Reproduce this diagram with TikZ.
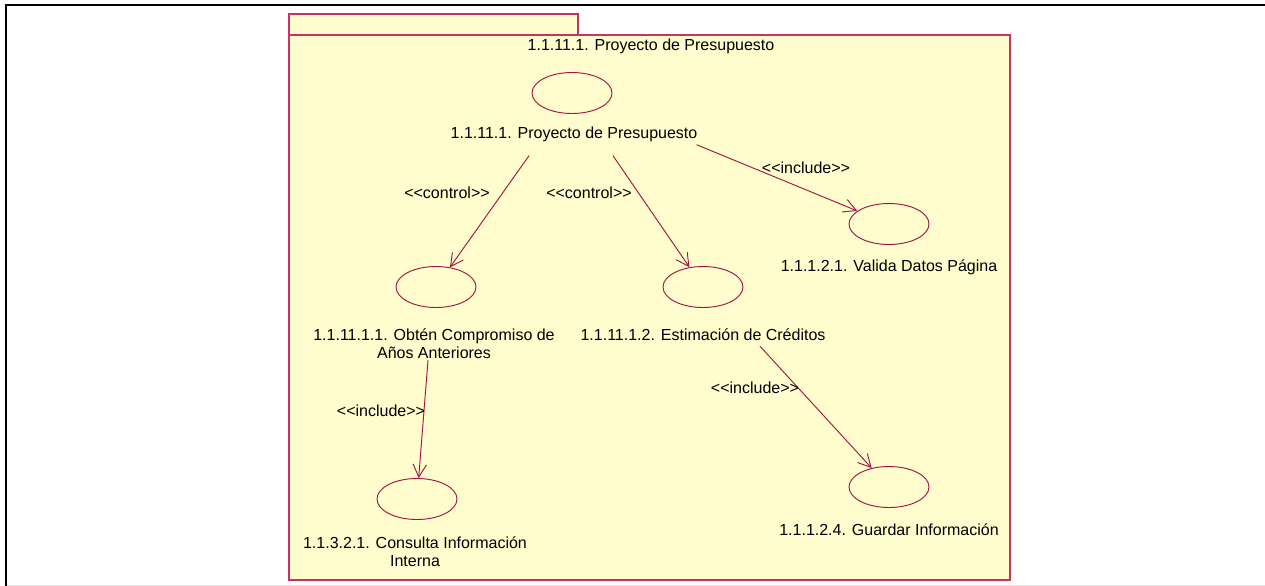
\documentclass[tikz,border=0pt]{standalone}
\usepackage{fontspec}
\setmainfont{Liberation Sans}
\usetikzlibrary{shapes.geometric, arrows.meta}

\definecolor{umlline}{RGB}{165,20,70}
\definecolor{umlpkg}{RGB}{200,50,100}
\definecolor{umlfill}{RGB}{255,252,205}
% stereotype text, kern keeps << and >> apart
\newcommand{\stereo}[1]{<\kern0pt<#1>\kern0pt>}

\begin{document}
\begin{tikzpicture}[x=0.75pt, y=-0.75pt,
  usecase/.style={draw=umlline, line width=0.7pt, ellipse, minimum width=60pt, minimum height=30.75pt, inner sep=0pt},
  uclabel/.style={font=\fontsize{12}{13.5}\selectfont, align=center, inner sep=0pt},
  stlabel/.style={font=\fontsize{12}{13.5}\selectfont, inner sep=0pt},
  rel/.style={draw=umlline, line width=0.7pt, -{Straight Barb[length=9.5pt, width=10pt]}}]
\useasboundingbox (0,0) rectangle (1265,586);

% window frame
\draw[line width=2pt] (6,586) -- (6,5) -- (1265,5);
\draw[black!12, line width=1pt] (7,585.5) -- (1265,585.5);

% package
\draw[draw=umlpkg, fill=umlfill, line width=1pt] (289,14) rectangle (578,35);
\draw[draw=umlpkg, fill=umlfill, line width=1pt] (289,35) rectangle (1010,580);
\node[uclabel] (pkgname) at (651,46) {1.1.11.1. Proyecto de Presupuesto};

% use cases
\node[usecase] (projuc) at (572,93) {};
\node[uclabel] (projlbl) at (574,134) {1.1.11.1. Proyecto de Presupuesto};
\node[usecase] (valuc) at (889,224) {};
\node[uclabel] (vallbl) at (889,267) {1.1.1.2.1. Valida Datos Página};
\node[usecase] (obtuc) at (436,287) {};
\node[uclabel] (obtlbl) at (434,344) {1.1.11.1.1. Obtén Compromiso de\\Años Anteriores};
\node[usecase] (estuc) at (703,287) {};
\node[uclabel] (estlbl) at (703,335) {1.1.11.1.2. Estimación de Créditos};
\node[usecase] (conuc) at (417,499) {};
\node[uclabel] (conlbl) at (415,552) {1.1.3.2.1. Consulta Información\\Interna};
\node[usecase] (guauc) at (889,487) {};
\node[uclabel] (gualbl) at (889,530) {1.1.1.2.4. Guardar Información};

% relations
\draw[rel] ([shift={(-45,14)}]projlbl.south) -- (obtuc);
\draw[rel] ([shift={(39,14)}]projlbl.south) -- (estuc);
\draw[rel] ([shift={(-1,3)}]projlbl.south east) -- (valuc);
\draw[rel] ([shift={(-6,1)}]obtlbl.south) -- (conuc);
\draw[rel] ([shift={(57,5)}]estlbl.south) -- (guauc);

\node[stlabel] (ctl1) at (447,193) {\stereo{control}};
\node[stlabel] (ctl2) at (589,193) {\stereo{control}};
\node[stlabel] (inc1) at (806,168) {\stereo{include}};
\node[stlabel] (inc2) at (381,411) {\stereo{include}};
\node[stlabel] (inc3) at (755,388) {\stereo{include}};
\end{tikzpicture}
\end{document}
